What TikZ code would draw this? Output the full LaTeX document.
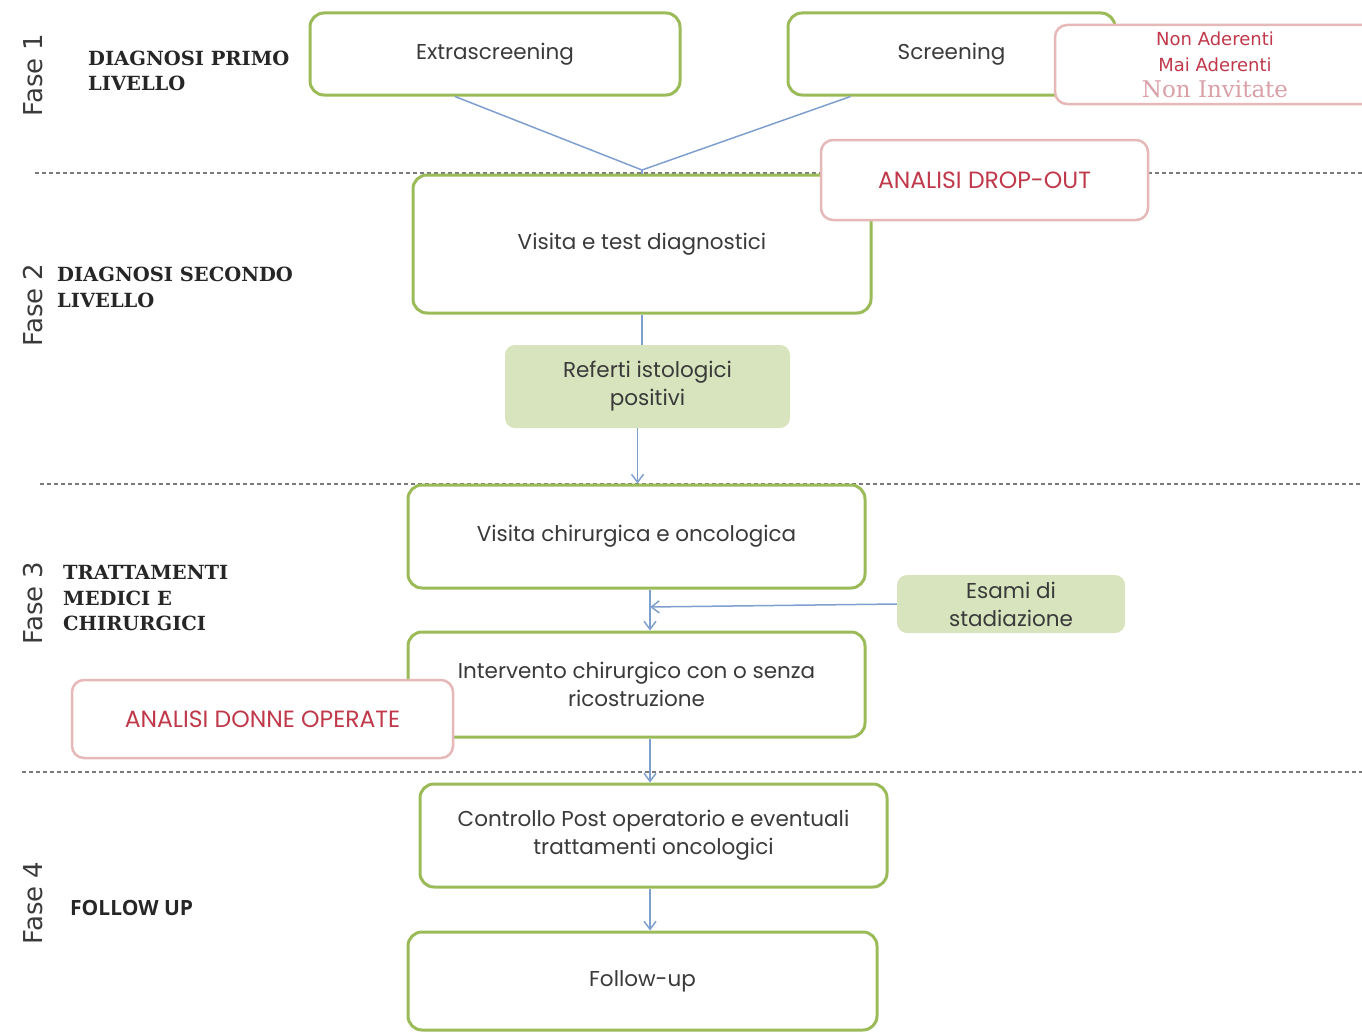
\documentclass[tikz,border=0pt]{standalone}
\usepackage{fontspec}
\setmainfont{Poppins}
\newfontfamily\fasefont{DejaVu Sans}
\newfontfamily\phasefont{DejaVu Serif}
\newfontfamily\followfont{Open Sans}
\newfontfamily\smallsans{DejaVu Sans}
\newfontfamily\invfont{DejaVu Serif}
\usetikzlibrary{arrows.meta}

\definecolor{boxgreen}{HTML}{9BBB59}
\definecolor{fillgreen}{HTML}{D7E4BD}
\definecolor{pinkline}{HTML}{E6B9B8}
\definecolor{redtext}{HTML}{C0394B}
\definecolor{linkblue}{HTML}{7F9FCF}
\definecolor{dashgray}{HTML}{7A7A7A}
\definecolor{textgray}{HTML}{3A3A3A}
\definecolor{invpink}{HTML}{D9A0A8}

\tikzset{
  boxtext/.style={font=\fontsize{21.5}{28}\selectfont, text=textgray, align=center},
  greenbox/.style={boxtext, draw=boxgreen, line width=3pt, rounded corners=14pt,
    fill=white, inner sep=0pt},
  shadebox/.style={boxtext, fill=fillgreen, draw=none, rounded corners=10pt, inner sep=0pt},
  pinkbox/.style={draw=pinkline, line width=2.5pt, rounded corners=12pt, fill=white,
    inner sep=0pt, text=redtext, font=\fontsize{23.5}{26}\selectfont},
  fase/.style={font=\fasefont\fontsize{26}{26}\selectfont, text=textgray, rotate=90},
  phase/.style={font=\phasefont\bfseries\fontsize{19.5}{25.5}\selectfont, text=black!85,
    align=left, anchor=west, inner sep=0pt},
  sep/.style={dashgray, line width=1.3pt, dash pattern=on 4pt off 3pt},
  link/.style={linkblue, line width=1.5pt},
  arr/.style={link, -{Straight Barb[length=8pt, width=12pt]}},
}

\begin{document}
\begin{tikzpicture}[x=1pt, y=-1pt]
\useasboundingbox (0,0) rectangle (1362,1033);

% phase separators
\draw[sep] (35,173) -- (1362,173);
\draw[sep] (40,484) -- (1362,484);
\draw[sep] (22,772) -- (1362,772);

% phase titles
\node[fase] (f1) at (33,75) {Fase 1};
\node[fase] (f2) at (33,305) {Fase 2};
\node[fase] (f3) at (33,603) {Fase 3};
\node[fase] (f4) at (33,903) {Fase 4};

\node[phase] (p1) at (88,71) {DIAGNOSI PRIMO\\LIVELLO};
\node[phase] (p2) at (57,287.5) {DIAGNOSI SECONDO\\LIVELLO};
\node[phase] (p3) at (63,598.5) {TRATTAMENTI\\MEDICI E\\CHIRURGICI};
\node[phase, font=\followfont\bfseries\fontsize{21}{22}\selectfont] (p4) at (70,908) {FOLLOW UP};

% first level
\node[greenbox, minimum width=370pt, minimum height=82pt] (ex) at (495,54) {Extrascreening};
\node[greenbox, minimum width=327pt, minimum height=82pt] (sc) at (951.5,54) {Screening};
\node[pinkbox, minimum width=320pt, minimum height=79pt] (na) at (1215,64.5) {};
\node[text=redtext, font=\smallsans\fontsize{18}{18}\selectfont] (na1) at (1215,39) {Non Aderenti};
\node[text=redtext, font=\smallsans\fontsize{18}{18}\selectfont] (na2) at (1215,65) {Mai Aderenti};
\node[text=invpink, font=\invfont\fontsize{23}{23}\selectfont] (na3) at (1215,89) {Non Invitate};

% second level
\node[greenbox, minimum width=458pt, minimum height=138pt] (vis) at (642,244) {Visita e test diagnostici};
\node[pinkbox, minimum width=327pt, minimum height=80pt] (drop) at (984.5,180) {ANALISI DROP-OUT};
\node[shadebox, minimum width=285pt, minimum height=83pt] (ref) at (647.5,386.5) {Referti istologici\\positivi};

% treatments
\node[greenbox, minimum width=457pt, minimum height=103pt] (vc) at (636.5,536.5) {Visita chirurgica e oncologica};
\node[shadebox, minimum width=228pt, minimum height=58pt] (es) at (1011,604) {Esami di\\stadiazione};
\node[greenbox, minimum width=457pt, minimum height=105pt] (int) at (636.5,684.5) {Intervento chirurgico con o senza\\ricostruzione};
\node[pinkbox, minimum width=381pt, minimum height=78pt] (donne) at (262.5,719) {ANALISI DONNE OPERATE};

% follow up
\node[greenbox, minimum width=467pt, minimum height=103pt] (ctrl) at (653.5,835.5) {Controllo Post operatorio e eventuali\\trattamenti oncologici};
\node[greenbox, minimum width=469pt, minimum height=98pt] (fu) at (642.5,981) {Follow-up};

% connectors
\coordinate (join) at (642,170);
\draw[link] ([xshift=-40pt]ex.south) -- (join);
\draw[link] ([xshift=-101pt]sc.south) -- (join);
\draw[link] (join) -- (vis.north);
\draw[link] (vis.south) -- (vis.south |- ref.north);
\draw[arr] ([xshift=-10pt]ref.south) -- ([xshift=-10pt]ref.south |- vc.north);
\coordinate (mid) at (650,607);
\draw[arr] (vc.south -| mid) -- (int.north -| mid);
\draw[arr] (es.west) -- (mid);
\draw[arr] (int.south -| mid) -- (ctrl.north -| mid);
\draw[arr] (ctrl.south -| mid) -- (fu.north -| mid);
\end{tikzpicture}
\end{document}
